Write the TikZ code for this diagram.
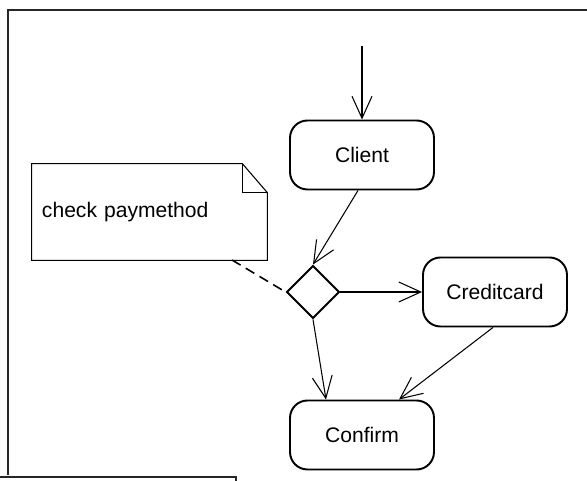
\documentclass[tikz,border=0pt]{standalone}
\usepackage{fontspec}
\setmainfont{Liberation Sans}
\usetikzlibrary{shapes.geometric,arrows.meta}

\begin{document}
\begin{tikzpicture}[
  font=\fontsize{12}{14}\selectfont,
  state/.style={draw,line width=1.1pt,rounded corners=0.35cm,
    minimum width=2.88cm,minimum height=1.38cm,inner sep=0pt},
  flow/.style={line width=0.6pt,-{Straight Barb[length=0.44cm,width=0.4cm,line width=0.6pt]}},
  notebox/.style={line width=0.6pt}]

\useasboundingbox (0,0) rectangle (11.74,9.62);

% frames
\begin{scope}[line width=1.1pt,black!85]
\draw (11.74,9.42) -- (0.16,9.42) -- (0.16,0.12);
\draw (0,0.08) -- (4.72,0.08) -- (4.72,0);
\end{scope}

\coordinate (start) at (7.24,8.70);
\node[state] (client) at (7.24,6.52) {Client};
\node[draw,diamond,line width=1.1pt,minimum size=1.06cm,inner sep=0pt] (choice) at (6.26,3.78) {};
\node[state] (credit) at (9.90,3.78) {Creditcard};
\node[state] (confirm) at (7.24,0.92) {Confirm};

\node[minimum width=4.7cm,minimum height=1.92cm,text width=4.3cm,
  inner xsep=0.2cm,align=left] (note) at (2.99,5.38) {check paymethod};
\draw[notebox] (note.south west) -- (note.north west)
  -- ([xshift=-0.5cm]note.north east) -- ([yshift=-0.58cm]note.north east)
  -- (note.south east) -- cycle;
\draw[notebox] ([xshift=-0.5cm]note.north east) |- ([yshift=-0.58cm]note.north east);
\coordinate (anchor) at (4.64,4.42);

\draw[flow] (start) -- (client);
\draw[flow] ([xshift=-0.08cm]client.south) -- (choice.north);
\draw[flow] (choice.east) -- (credit.west);
\draw[flow] (choice.south) -- ([xshift=-0.72cm]confirm.north);
\draw[flow] ([xshift=-0.04cm]credit.south) -- ([xshift=0.74cm]confirm.north);
\draw[line width=0.9pt,dash pattern=on 0.2cm off 0.12cm] (anchor) -- (choice.west);
\end{tikzpicture}
\end{document}
